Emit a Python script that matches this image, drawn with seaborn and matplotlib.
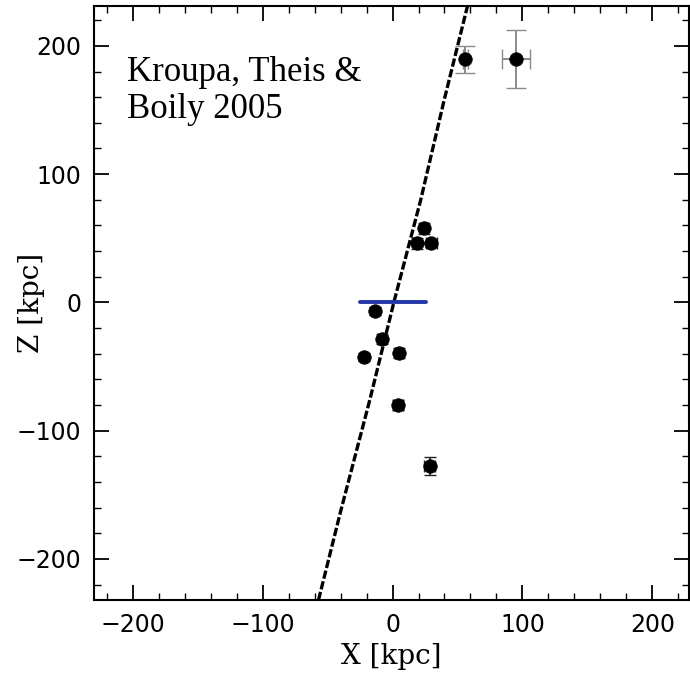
import numpy as np
import pandas as pd
import matplotlib
matplotlib.use("Agg")
import matplotlib.pyplot as plt
from matplotlib.ticker import MultipleLocator
import seaborn as sns

# satellites (black points)
sat_x = [24.5, 18.5, 29.9, -13.7, -8.0, -21.9, 4.9, 4.1, 28.6]
sat_z = [57.7, 46.0, 46.0, -6.8, -28.3, -42.6, -39.5, -80.0, -127.6]
sat_xerr = [3, 3, 4, 2, 3, 2, 3, 4, 4]
sat_zerr = [4, 4, 3, 3, 4, 3, 4, 4, 7]

# distant objects (grey error bars)
far_x = [56.0, 95.0]
far_z = [190.0, 190.0]
far_xerr = [2, 11]
far_zerr_lo = [11, 23]
far_zerr_hi = [10, 22]

# fitted plane (dashed line)
line_x = [-57, -40, -17.5, 1, 21.6, 39.7, 57.7]
line_z = [-232, -163, -76, 0, 79.5, 157.5, 231]

# galactic disc (blue segment)
disc_x = [-24.7, 25.5]
disc_z = [0, 0]

sns.set_style("white")
fig = plt.figure(figsize=(6.9, 6.79), dpi=100)
ax = fig.add_axes([0.136, 0.1163, 0.862, 0.8747])

sns.lineplot(x=line_x, y=line_z, sort=False, color="black", lw=2.4,
             linestyle=(0, (2.5, 0.8)), ax=ax, zorder=2)
sns.lineplot(x=disc_x, y=disc_z, sort=False, color="#1f35b5", lw=2.8, ax=ax, zorder=3)

ax.errorbar(sat_x, sat_z, xerr=sat_xerr, yerr=sat_zerr, fmt="none",
            ecolor="#222222", elinewidth=1.2, capsize=4, zorder=3)
ax.errorbar(far_x, far_z, xerr=far_xerr, yerr=[far_zerr_lo, far_zerr_hi], fmt="none",
            ecolor="#8a8a8a", elinewidth=1.4, capsize=7, zorder=3)

df = pd.DataFrame({"x": sat_x + far_x, "z": sat_z + far_z})
sns.scatterplot(data=df, x="x", y="z", color="black", s=95, edgecolor="black",
                linewidth=0.5, ax=ax, zorder=4)

ax.set_xlim(-230, 228)
ax.set_ylim(-232, 231)
ax.xaxis.set_major_locator(MultipleLocator(100))
ax.xaxis.set_minor_locator(MultipleLocator(20))
ax.yaxis.set_major_locator(MultipleLocator(100))
ax.yaxis.set_minor_locator(MultipleLocator(20))
ax.tick_params(which="both", direction="in", top=True, right=True, bottom=True,
               left=True, color="black", labelcolor="black")
ax.tick_params(which="major", length=11, width=1.3, labelsize=17, pad=9)
ax.tick_params(which="minor", length=5, width=1.0)
for lab in ax.get_xticklabels() + ax.get_yticklabels():
    lab.set_fontfamily("DejaVu Sans")
for s in ax.spines.values():
    s.set_color("black")
    s.set_linewidth(1.5)

ax.set_xlabel("X [kpc]", fontsize=20, family="DejaVu Serif", color="black")
ax.set_ylabel("Z [kpc]", fontsize=20, family="DejaVu Serif", color="black")
ax.xaxis.set_label_coords(0.5, -0.072)
ax.yaxis.set_label_coords(-0.082, 0.5)

ax.text(-204.6, 173, "Kroupa, Theis &", fontsize=25,
        family="Liberation Serif", va="baseline", ha="left", color="black")
ax.text(-204.6, 143.5, "Boily 2005", fontsize=25,
        family="Liberation Serif", va="baseline", ha="left", color="black")

fig.savefig("out.png", dpi=100)
